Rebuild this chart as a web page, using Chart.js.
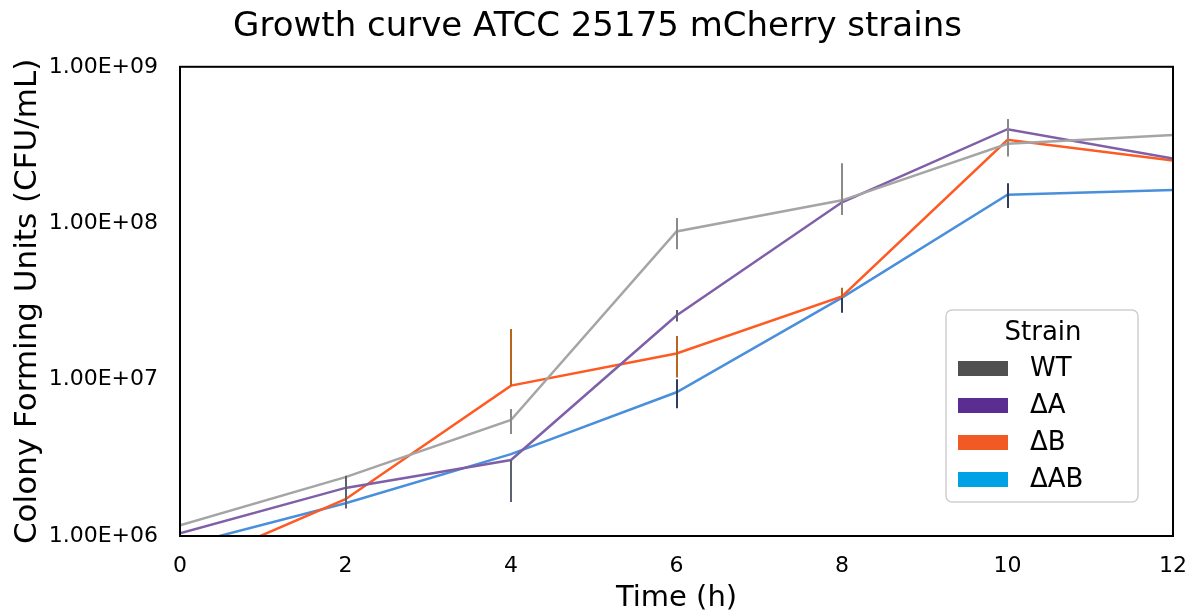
<!DOCTYPE html>
<html>
<head>
<meta charset="utf-8">
<script src="https://cdn.jsdelivr.net/npm/chart.js@4"></script>
<style>
  html, body { margin: 0; padding: 0; background: #fff; }
</style>
</head>
<body>
<canvas id="chart" width="1195" height="616"></canvas>
<script>
// time points (h)
const hours = [0, 2, 4, 6, 8, 10, 12];
const strains = ['WT', '\u0394A', '\u0394B', '\u0394AB'];

// CFU/mL
const wt   = [1.17e6, 2.38e6, 5.52e6, 8.85e7, 1.40e8, 3.22e8, 3.67e8];
const dA   = [1.04e6, 2.03e6, 3.06e6, 2.57e7, 1.36e8, 3.99e8, 2.59e8];
const dB   = [6.0e5,  1.72e6, 9.15e6, 1.47e7, 3.40e7, 3.41e8, 2.52e8];
const dAB  = [8.6e5,  1.62e6, 3.34e6, 8.30e6, 3.34e7, 1.52e8, 1.63e8];

// error bar ends (null = not drawn)
const wtLow   = [null, null,   4.49e6, 6.82e7, 1.13e8, 2.67e8, null];
const wtHigh  = [null, null,   6.49e6, 1.08e8, 2.42e8, 4.63e8, null];
const dALow   = [null, 1.50e6, 1.65e6, 2.35e7, null, null, null];
const dAHigh  = [null, 2.43e6, 3.06e6, 2.79e7, null, null, null];
const dBLow   = [null, null,   null,   1.03e7, 3.40e7, null, null];
const dBHigh  = [null, null,   2.11e7, 1.90e7, 3.87e7, null, null];
const dABLow  = [null, null,   null,   6.56e6, 2.68e7, 1.25e8, null];
const dABHigh = [null, null,   null,   1.005e7, 3.34e7, 1.80e8, null];

const yTicks = [1e6, 1e7, 1e8, 1e9];

const lineColors   = ['#a5a5a5', '#7f60a8', '#fe5a22', '#4a8fdb'];
const errColors    = ['#8a8a8a', '#5a6270', '#b8661e', '#2e3e5c'];
const legendColors = ['#505050', '#5c2d91', '#f15a22', '#00a2e5'];

const series = [wt, dA, dB, dAB];
const lows = [wtLow, dALow, dBLow, dABLow];
const highs = [wtHigh, dAHigh, dBHigh, dABHigh];

function pts(vals) {
    return hours.map((h, i) => ({ x: h, y: vals[i] }));
}

const errorBars = {
    id: 'errorBars',
    afterDatasetsDraw(chart) {
        const ctx = chart.ctx;
        const xs = chart.scales.x, ys = chart.scales.y;
        const a = chart.chartArea;
        ctx.save();
        ctx.beginPath();
        ctx.rect(a.left, a.top, a.right - a.left, a.bottom - a.top);
        ctx.clip();
        ctx.lineWidth = 2;
        series.forEach((vals, s) => {
            ctx.strokeStyle = errColors[s];
            hours.forEach((h, i) => {
                const lo = lows[s][i] == null ? vals[i] : lows[s][i];
                const hi = highs[s][i] == null ? vals[i] : highs[s][i];
                if (lo === hi) return;
                const px = Math.round(xs.getPixelForValue(h));
                ctx.beginPath();
                ctx.moveTo(px, ys.getPixelForValue(hi));
                ctx.lineTo(px, ys.getPixelForValue(lo));
                ctx.stroke();
            });
        });
        ctx.restore();
    }
};

const frameAndLegend = {
    id: 'frameAndLegend',
    afterDraw(chart) {
        const ctx = chart.ctx;
        const a = chart.chartArea;
        ctx.save();
        ctx.strokeStyle = '#000';
        ctx.lineWidth = 2;
        ctx.strokeRect(a.left, a.top, a.right - a.left, a.bottom - a.top);

        // legend box
        const lx = 946, ly = 310, lw = 192, lh = 192;
        ctx.fillStyle = '#fff';
        ctx.strokeStyle = '#cfcfcf';
        ctx.lineWidth = 1.5;
        ctx.beginPath();
        ctx.roundRect(lx, ly, lw, lh, 6);
        ctx.fill();
        ctx.stroke();

        ctx.fillStyle = '#000';
        ctx.font = '26px "DejaVu Sans"';
        ctx.textAlign = 'center';
        ctx.textBaseline = 'middle';
        ctx.fillText('Strain', 1043, 333);

        ctx.textAlign = 'left';
        strains.forEach((name, i) => {
            const cy = 368.5 + i * 37;
            ctx.fillStyle = legendColors[i];
            ctx.fillRect(958, cy - 7.5, 50, 15);
            ctx.fillStyle = '#000';
            ctx.fillText(name, 1030, cy + 1);
        });
        ctx.restore();
    }
};

new Chart(document.getElementById('chart'), {
    type: 'line',
    data: {
        datasets: strains.map((name, i) => ({
            label: name,
            data: pts(series[i]),
            borderColor: lineColors[i],
            backgroundColor: lineColors[i],
            borderWidth: 2.5,
            pointRadius: 0,
            tension: 0
        }))
    },
    options: {
        responsive: false,
        animation: false,
        layout: { padding: 0 },
        plugins: {
            legend: { display: false },
            tooltip: { enabled: false },
            title: {
                display: true,
                text: 'Growth curve ATCC 25175 mCherry strains',
                color: '#000',
                font: { family: 'DejaVu Sans', size: 34, weight: 'normal' },
                padding: { top: 7, bottom: 19 }
            }
        },
        scales: {
            x: {
                type: 'linear',
                min: 0,
                max: 12,
                grid: { display: false, drawTicks: false },
                border: { display: false },
                ticks: {
                    stepSize: 2,
                    color: '#000',
                    padding: 17,
                    font: { family: 'DejaVu Sans', size: 22 }
                },
                title: {
                    display: true,
                    text: 'Time (h)',
                    color: '#000',
                    padding: { top: 3, bottom: 0 },
                    font: { family: 'DejaVu Sans', size: 29 }
                },
                afterFit: s => { s.height = 80; s.paddingLeft = 0; s.paddingRight = 22; }
            },
            y: {
                type: 'logarithmic',
                min: 1e6,
                max: 1e9,
                grid: { display: false, drawTicks: false },
                border: { display: false },
                afterBuildTicks: s => { s.ticks = yTicks.map(v => ({ value: v })); },
                ticks: {
                    color: '#000',
                    padding: 22,
                    font: { family: 'DejaVu Sans', size: 22 },
                    callback: v => {
                        const e = Math.round(Math.log10(v));
                        return '1.00E+' + String(e).padStart(2, '0');
                    }
                },
                title: {
                    display: true,
                    text: 'Colony Forming Units (CFU/mL)',
                    color: '#000',
                    padding: { top: 9, bottom: 0 },
                    font: { family: 'DejaVu Sans', size: 31 }
                },
                afterFit: s => { s.width = 180; s.paddingTop = 0; s.paddingBottom = 0; }
            }
        }
    },
    plugins: [errorBars, frameAndLegend]
});
</script>
</body>
</html>
